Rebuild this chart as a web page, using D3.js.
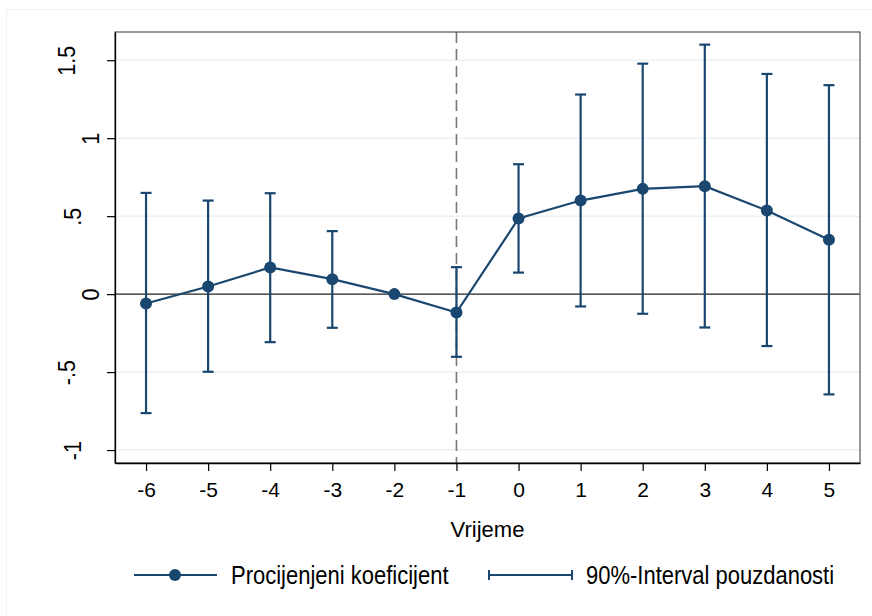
<!DOCTYPE html>
<html><head><meta charset="utf-8">
<script src="https://cdn.jsdelivr.net/npm/d3@7"></script>
<style>body{margin:0;background:#fff}svg{display:block;font-family:Arial,"Liberation Sans",sans-serif}</style>
</head><body><svg id="c" width="872" height="616"></svg>
<script>
const periods = [-6,-5,-4,-3,-2,-1,0,1,2,3,4,5];
const coef  = [-0.06, 0.049, 0.171, 0.096, 0, -0.118, 0.485, 0.600, 0.675, 0.692, 0.536, 0.348];
const upper = [0.649, 0.600, 0.647, 0.404, null, 0.173, 0.833, 1.28, 1.478, 1.60, 1.412, 1.34];
const lower = [-0.763, -0.498, -0.308, -0.216, null, -0.402, 0.138, -0.079, -0.126, -0.214, -0.333, -0.643];
const yTicks = [-1, -0.5, 0, 0.5, 1, 1.5];
const yTickLabels = ["-1", "-.5", "0", ".5", "1", "1.5"];
const xTitle = "Vrijeme";
const legendLabels = ["Procijenjeni koeficijent", "90%-Interval pouzdanosti"];

const col = "#1a476f";
const FONT = "Arial, 'Liberation Sans', sans-serif";
const CX = 0.88; // horizontal glyph compression (reference font is slightly condensed)
const svg = d3.select("#c");
const L = 115, R = 860, T = 32, B = 463;
const x = d3.scaleLinear().domain([-6.5, 5.5]).range([L, R]);
const y = d3.scaleLinear().domain([-1.083, 1.681]).range([B, T]);

// outer graph region outline
svg.append("rect").attr("x",6.5).attr("y",9.5).attr("width",900).attr("height",700)
  .attr("fill","#fff").attr("stroke","#eef1f2").attr("stroke-width",1);
svg.append("rect").attr("x",L).attr("y",T).attr("width",R-L).attr("height",B-T).attr("fill","#fff");

// gridlines
svg.append("g").selectAll("line").data(yTicks.filter(d=>d!==0)).join("line")
  .attr("x1",L).attr("x2",R).attr("y1",d=>y(d)).attr("y2",d=>y(d))
  .attr("stroke","#eaf2f3").attr("stroke-width",1.5);
// zero line
svg.append("line").attr("x1",L).attr("x2",R).attr("y1",y(0)).attr("y2",y(0))
  .attr("stroke","#222").attr("stroke-width",1.2);
// dashed vertical at -1
svg.append("line").attr("x1",x(-1)).attr("x2",x(-1)).attr("y1",T).attr("y2",B)
  .attr("stroke","#777").attr("stroke-width",1.6).attr("stroke-dasharray","11,6");

// plot border
svg.append("rect").attr("x",L).attr("y",T).attr("width",R-L).attr("height",B-T)
  .attr("fill","none").attr("stroke","#555").attr("stroke-width",1.2);

// axes
const yAxis = d3.axisLeft(y).tickValues(yTicks).tickFormat((d,i)=>yTickLabels[i]).tickSize(8).tickSizeOuter(0);
const gy = svg.append("g").attr("transform",`translate(${L},0)`).call(yAxis);
gy.select(".domain").attr("stroke","#000").attr("stroke-width",1.3);
gy.selectAll(".tick line").attr("stroke","#000").attr("stroke-width",1.2);
const labelCx = d3.scaleLinear().domain([1,2,3]).range([90,72.5,66]).clamp(true);
gy.selectAll(".tick text").attr("font-size",24.5).attr("fill","#000").attr("font-family",FONT)
  .attr("text-anchor","middle").attr("x",0).attr("y",0).attr("dy","0.35em")
  .attr("transform",function(d,i){ const cx = labelCx(yTickLabels[i].length) - L;
      return `translate(${cx},0) rotate(-90) scale(${CX},1)`; });

const xAxis = d3.axisBottom(x).tickValues(periods).tickFormat(d=>String(d)).tickSize(8).tickSizeOuter(0);
const gx = svg.append("g").attr("transform",`translate(0,${B})`).call(xAxis);
gx.select(".domain").attr("stroke","#000").attr("stroke-width",1.3);
gx.selectAll(".tick line").attr("stroke","#000").attr("stroke-width",1.2);
gx.selectAll(".tick text").attr("font-size",21).attr("fill","#000").attr("font-family",FONT)
  .attr("y",27).attr("dy","0.35em");

// axis title
svg.append("text").attr("x",(L+R)/2).attr("y",537).attr("text-anchor","middle")
  .attr("font-size",22).attr("fill","#000").text(xTitle);

// error bars
const ci = periods.map((p,i)=>({p, lo:lower[i], hi:upper[i]})).filter(d=>d.lo!==null);
const eb = svg.append("g").attr("stroke",col).attr("stroke-width",2.2);
eb.selectAll(".v").data(ci).join("line").attr("x1",d=>x(d.p)).attr("x2",d=>x(d.p))
  .attr("y1",d=>y(d.lo)).attr("y2",d=>y(d.hi));
eb.selectAll(".t").data(ci).join("line").attr("x1",d=>x(d.p)-5.5).attr("x2",d=>x(d.p)+5.5)
  .attr("y1",d=>y(d.hi)).attr("y2",d=>y(d.hi));
eb.selectAll(".b").data(ci).join("line").attr("x1",d=>x(d.p)-5.5).attr("x2",d=>x(d.p)+5.5)
  .attr("y1",d=>y(d.lo)).attr("y2",d=>y(d.lo));

// line + markers
const pts = periods.map((p,i)=>({p, v:coef[i]}));
svg.append("path").datum(pts).attr("fill","none").attr("stroke",col).attr("stroke-width",2.2)
  .attr("d", d3.line().x(d=>x(d.p)).y(d=>y(d.v)));
svg.append("g").selectAll("circle").data(pts).join("circle")
  .attr("cx",d=>x(d.p)).attr("cy",d=>y(d.v)).attr("r",6).attr("fill",col);

// legend
const ly = 575;
const lg = svg.append("g");
lg.append("line").attr("x1",134).attr("x2",217).attr("y1",ly).attr("y2",ly).attr("stroke",col).attr("stroke-width",2.2);
lg.append("circle").attr("cx",175).attr("cy",ly).attr("r",6).attr("fill",col);
lg.append("text").attr("x",0).attr("y",0).attr("dy","0.35em").attr("font-size",25).attr("fill","#000")
  .attr("transform",`translate(231,${ly}) scale(${CX},1)`).text(legendLabels[0]);
lg.append("line").attr("x1",489).attr("x2",572).attr("y1",ly).attr("y2",ly).attr("stroke",col).attr("stroke-width",2.2);
lg.append("line").attr("x1",489).attr("x2",489).attr("y1",ly-5).attr("y2",ly+5).attr("stroke",col).attr("stroke-width",2);
lg.append("line").attr("x1",572).attr("x2",572).attr("y1",ly-5).attr("y2",ly+5).attr("stroke",col).attr("stroke-width",2);
lg.append("text").attr("x",0).attr("y",0).attr("dy","0.35em").attr("font-size",25).attr("fill","#000")
  .attr("transform",`translate(586,${ly}) scale(${CX},1)`).text(legendLabels[1]);
</script></body></html>
